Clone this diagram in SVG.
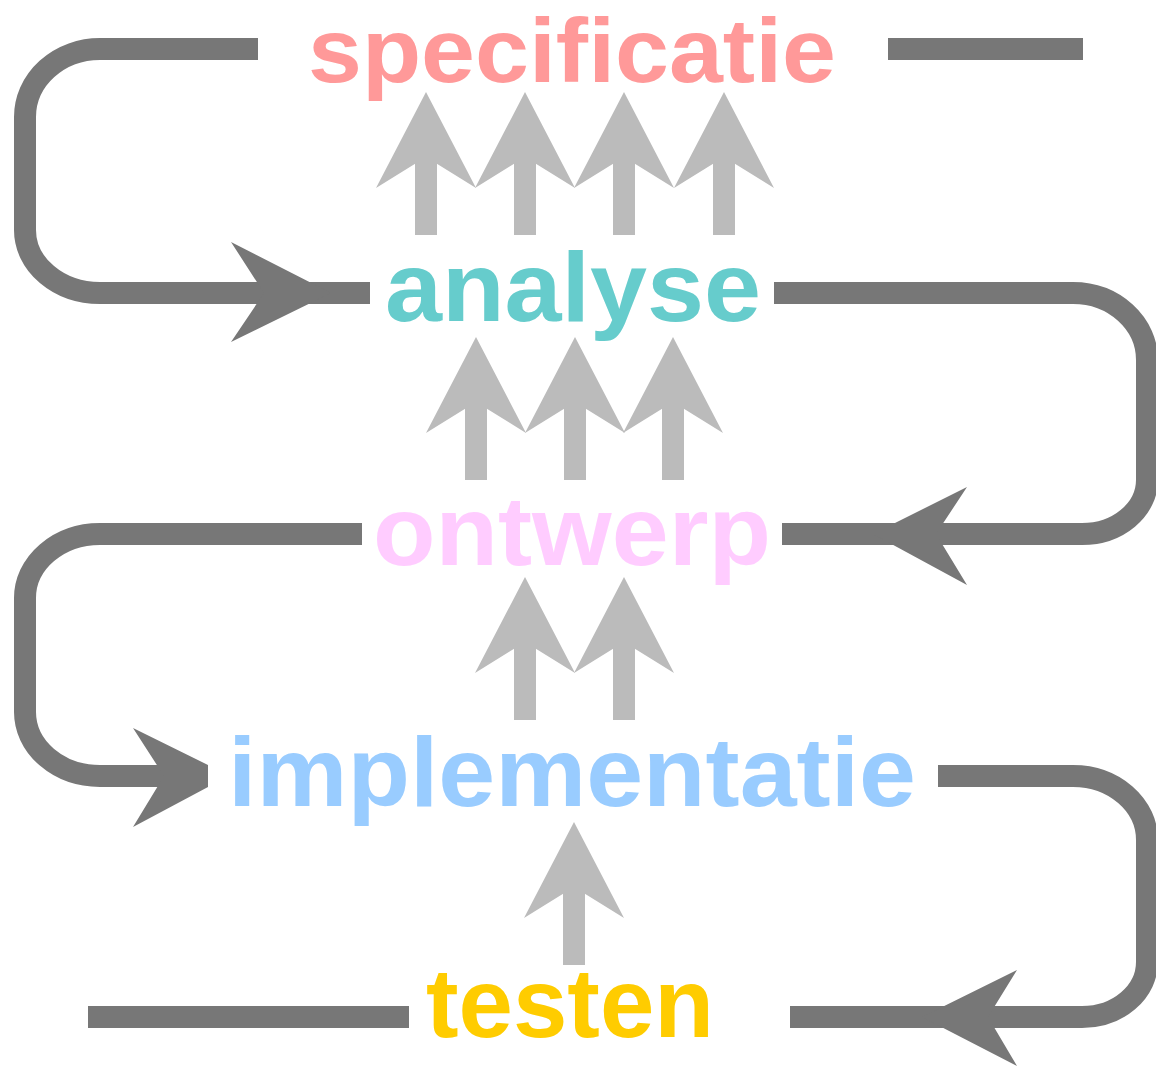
<svg xmlns="http://www.w3.org/2000/svg" xmlns:xlink="http://www.w3.org/1999/xlink" width="1156" height="1069" viewBox="0 0 1156 1069">
<style>
.lbl{font-family:"Liberation Sans",Arial,sans-serif;font-weight:bold;font-size:98px;text-anchor:middle}
.loop{fill:none;stroke:#777777;stroke-width:22;stroke-linecap:butt}
.head{fill:#777777}
.up{fill:#bbbbbb}
</style>
<defs>
<g id="uparrow">
<polygon points="0,0 50,96 0,65 -50,96"/>
<rect x="-11" y="60" width="22" height="83"/>
</g>
</defs>
<rect width="1156" height="1069" fill="#ffffff"/>
<g id="connectors">
<path class="loop" d="M258,49 H100 A75,68 0 0 0 25,117 V230 A75,63 0 0 0 100,293 H370"/>
<polygon class="head" points="331,293 231,242 264,293 231,342"/>
<path class="loop" d="M774,293 H1073 A74,67 0 0 1 1147,360 V480 A65,54 0 0 1 1082,534 H782"/>
<polygon class="head" points="873,534 967,487 936,534 967,585"/>
<path class="loop" d="M362,534 H100 A75,64 0 0 0 25,598 V712 A75,64 0 0 0 100,776 H208"/>
<polygon class="head" points="133,728 208,765 208,787 133,827 164,776"/>
<path class="loop" d="M938,776 H1073 A74,64 0 0 1 1147,840 V962 A65,55 0 0 1 1082,1017 H790"/>
<polygon class="head" points="922,1017 1017,970 988,1017 1017,1066"/>
<path class="loop" d="M88,1017 H409"/>
<path class="loop" d="M888,49 H1083"/>
<g class="up">
<use xlink:href="#uparrow" x="426" y="92"/>
<use xlink:href="#uparrow" x="525" y="92"/>
<use xlink:href="#uparrow" x="624" y="92"/>
<use xlink:href="#uparrow" x="724" y="92"/>
<use xlink:href="#uparrow" x="476" y="337"/>
<use xlink:href="#uparrow" x="575" y="337"/>
<use xlink:href="#uparrow" x="673" y="337"/>
<use xlink:href="#uparrow" x="525" y="577"/>
<use xlink:href="#uparrow" x="624" y="577"/>
<use xlink:href="#uparrow" x="574" y="822"/>
</g>
</g>
<g id="specificatie"><text class="lbl" x="572" y="82" fill="#ff9999" style="font-size:90px" textLength="528" lengthAdjust="spacingAndGlyphs">specificatie</text></g>
<g id="analyse"><text class="lbl" x="573" y="321" fill="#66cccc" textLength="376" lengthAdjust="spacingAndGlyphs">analyse</text></g>
<g id="ontwerp"><text class="lbl" x="572" y="565" fill="#ffccff" textLength="398" lengthAdjust="spacingAndGlyphs">ontwerp</text></g>
<g id="implementatie"><text class="lbl" x="572" y="806" fill="#99ccff" textLength="688" lengthAdjust="spacingAndGlyphs">implementatie</text></g>
<g id="testen"><text class="lbl" x="570" y="1037" fill="#ffcc00" textLength="288" lengthAdjust="spacingAndGlyphs">testen</text></g>
</svg>
